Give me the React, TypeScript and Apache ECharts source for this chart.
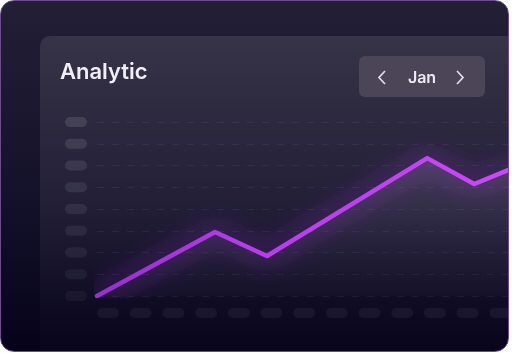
import React, { useEffect, useRef } from "react";
import * as echarts from "echarts";

// placeholder tick slots (rendered as pills)
const yTicks = [0, 1, 2, 3, 4, 5, 6, 7, 8];
// line data: [x, y]
const lineX = [0, 3.61, 5.2, 10.1, 11.54, 13];
const lineY = [0, 2.94, 1.84, 6.34, 5.15, 6.05];
const titleText = "Analytic";
const monthText = "Jan";

export default function App() {
  const ref = useRef<HTMLDivElement>(null);
  useEffect(() => {
    if (!ref.current) return;
    const chart = echarts.init(ref.current, null, { renderer: "svg" });
    const yRich: Record<string, any> = {};
    yTicks.forEach((v) => {
      const a = 0.045 + v * 0.0085;
      yRich["p" + v] = {
        width: 22,
        height: 10,
        lineHeight: 10,
        fontSize: 8,
        borderRadius: 5,
        backgroundColor: `rgba(255,255,255,${a.toFixed(3)})`,
      };
    });
    chart.setOption({
      animation: false,
      backgroundColor: "transparent",
      graphic: [
        {
          type: "rect",
          z: -10,
          shape: { x: 40, y: 36, width: 500, height: 360, r: [10, 0, 0, 0] },
          style: {
            fill: new echarts.graphic.LinearGradient(0, 0, 0, 1, [
              { offset: 0, color: "rgba(255,255,255,0.1)" },
              { offset: 0.5, color: "rgba(255,255,255,0.06)" },
              { offset: 0.75, color: "rgba(255,255,255,0.02)" },
              { offset: 1, color: "rgba(255,255,255,0)" },
            ]),
          },
          silent: true,
        },
        {
          type: "text",
          x: 60,
          y: 71,
          style: {
            text: titleText,
            fill: "#f2eef7",
            font: "600 22px Inter",
            verticalAlign: "middle",
            align: "left",
          },
        },
        {
          type: "rect",
          shape: { x: 359, y: 56, width: 126, height: 41, r: 6 },
          style: { fill: "#4b4557" },
        },
        {
          type: "text",
          x: 422,
          y: 77,
          style: {
            text: monthText,
            fill: "#eeeaf3",
            font: "600 16px Inter",
            align: "center",
            verticalAlign: "middle",
          },
        },
        {
          type: "polyline",
          shape: { points: [[385, 71], [379, 77.5], [385, 84]] },
          style: { stroke: "#e2dde9", lineWidth: 1.7, fill: null },
        },
        {
          type: "polyline",
          shape: { points: [[457, 71], [463, 77.5], [457, 84]] },
          style: { stroke: "#e2dde9", lineWidth: 1.7, fill: null },
        },
      ],
      grid: {
        left: 97,
        right: 0,
        top: 122,
        bottom: 57,
        containLabel: false,
        outerBoundsMode: "none",
      },
      xAxis: {
        type: "value",
        min: 0,
        max: 13,
        interval: 1,
        axisLine: { show: false },
        axisTick: { show: false },
        splitLine: { show: false },
        axisLabel: {
          margin: 12,
          align: "left",
          formatter: () => "{p| }",
          rich: {
            p: {
              width: 22,
              height: 10,
              lineHeight: 10,
              fontSize: 8,
              borderRadius: 5,
              backgroundColor: "rgba(255,255,255,0.05)",
            },
          },
        },
      },
      yAxis: {
        type: "value",
        min: 0,
        max: 8,
        interval: 1,
        axisLine: { show: false },
        axisTick: { show: false },
        splitLine: {
          show: true,
          lineStyle: { color: "rgba(255,255,255,0.06)", type: [7, 8], width: 1 },
        },
        axisLabel: {
          margin: 10,
          formatter: (v: number) => `{p${v}| }`,
          rich: yRich,
        },
      },
      series: [
        {
          type: "line",
          data: lineX.map((x, i) => [x, lineY[i]]),
          symbol: "none",
          lineStyle: {
            width: 4.5,
            color: new echarts.graphic.LinearGradient(0, 0, 1, 0, [
              { offset: 0, color: "#9530cc" },
              { offset: 0.35, color: "#b63ceb" },
              { offset: 1, color: "#cd48fa" },
            ]),
            shadowBlur: 26,
            shadowColor: "rgba(185,55,250,0.95)",
            cap: "round",
            join: "round",
          },
          areaStyle: {
            color: new echarts.graphic.LinearGradient(0, 0, 0, 1, [
              { offset: 0, color: "rgba(150,135,170,0.38)" },
              { offset: 0.5, color: "rgba(115,100,135,0.24)" },
              { offset: 1, color: "rgba(70,60,90,0.12)" },
            ]),
          },
        },
      ],
    });
    return () => chart.dispose();
  }, []);

  return (
    <div
      style={{
        position: "fixed",
        left: 0,
        top: 0,
        width: 509,
        height: 352,
        boxSizing: "border-box",
        border: "1px solid #6e4a8e",
        borderRadius: 14,
        overflow: "hidden",
        background: "linear-gradient(180deg, #231f35 0%, #14112a 55%, #05021a 100%)",
      }}
    >
      <div
        ref={ref}
        style={{ position: "absolute", left: -1, top: -1, width: 522, height: 353 }}
      />
    </div>
  );
}
